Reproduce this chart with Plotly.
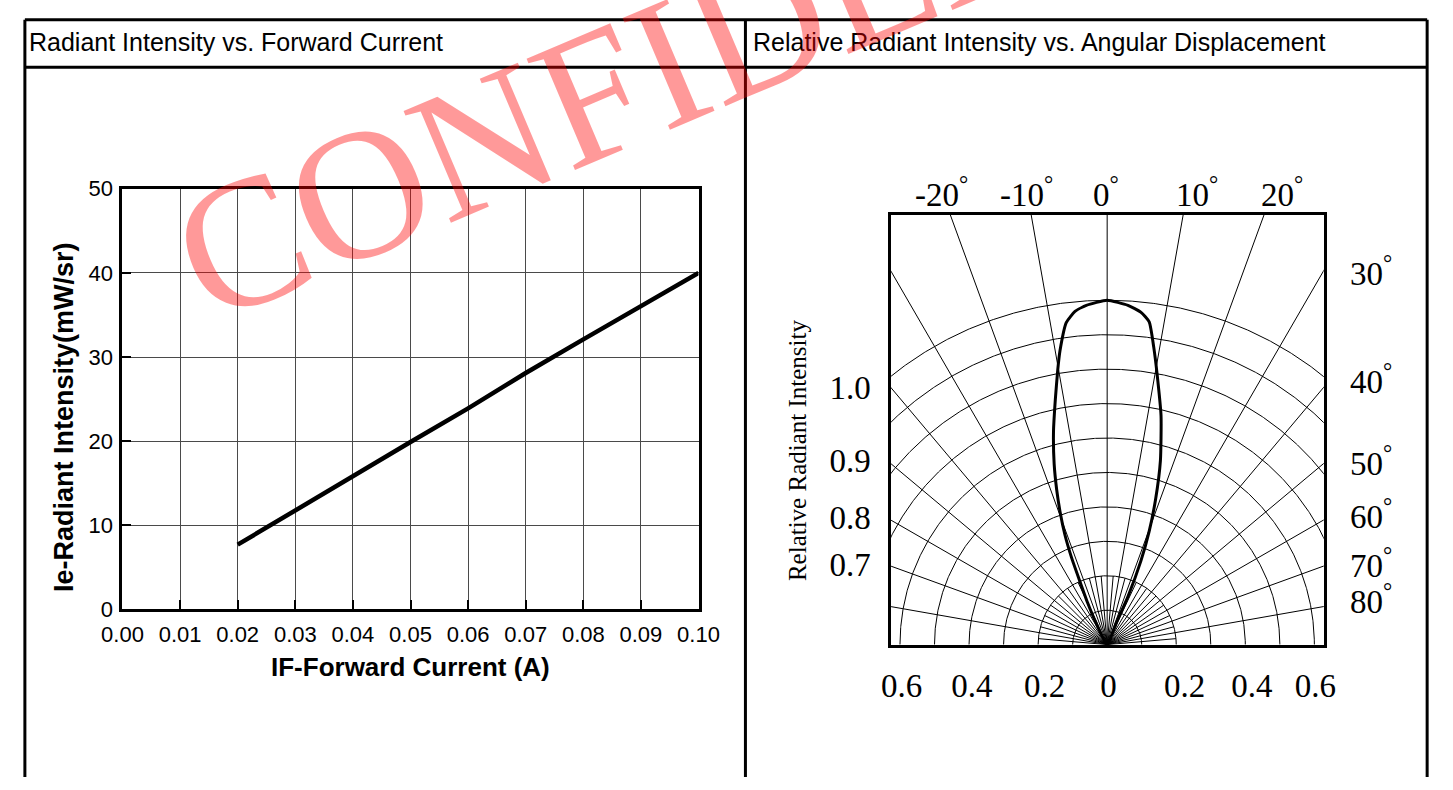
import numpy as np
import plotly.graph_objects as go

W, H = 1453, 790

# ---------------- data: left chart ----------------
current_A = [0.02, 0.03, 0.04, 0.05, 0.06, 0.07, 0.08, 0.09, 0.10]
radiant_mw_sr = [7.7, 11.8, 15.9, 19.9, 23.9, 28.1, 32.1, 36.1, 40.0]
x_tick_vals = [0.00, 0.01, 0.02, 0.03, 0.04, 0.05, 0.06, 0.07, 0.08, 0.09, 0.10]
y_tick_vals = [0, 10, 20, 30, 40, 50]

# ---------------- data: right chart (radiation pattern) ----------------
pattern_angle_deg = [-27.0, -25.0, -23.2, -22.2, -21.0, -19.5, -18.0, -16.3, -14.1, -11.9,
                     -10.2, -9.1, -7.2, -5.5, -3.5, 0.0, 3.5, 5.8, 7.4, 8.9, 10.4, 13.2,
                     16.1, 18.4, 20.3, 21.9, 23.3, 22.8]
pattern_rel_intensity = [0.073, 0.134, 0.204, 0.273, 0.341, 0.408, 0.473, 0.547, 0.638, 0.728,
                         0.809, 0.864, 0.943, 0.972, 0.987, 1.000, 0.987, 0.970, 0.945, 0.873,
                         0.800, 0.683, 0.556, 0.444, 0.350, 0.262, 0.153, 0.071]
arc_radii = [0.1, 0.2, 0.3, 0.4, 0.5, 0.6, 0.7, 0.8, 0.9, 1.0]
spoke_angles = [-80, -70, -60, -50, -40, -30, -20, -10, 0, 10, 20, 30, 40, 50, 60, 70, 80]
minor_spoke_angles = [-85, -75, -65, -55, -45, -35, -25, -15, -5, 5, 15, 25, 35, 45, 55, 65, 75, 85]
top_angle_labels = ["-20", "-10", "0", "10", "20"]
side_angle_labels = ["30", "40", "50", "60", "70", "80"]
bottom_labels = ["0.6", "0.4", "0.2", "0", "0.2", "0.4", "0.6"]
bottom_label_pos = [-0.595, -0.392, -0.181, 0.004, 0.224, 0.419, 0.603]
left_labels = ["1.0", "0.9", "0.8", "0.7"]
left_label_pos = [0.746, 0.535, 0.369, 0.234]

# ---------------- helpers (pixel -> paper) ----------------
def fx(px):
    return px / W

def fy(py):
    return 1 - py / H

# right chart geometry
UNIT = 355.6          # pixels for relative intensity 1.0
BOX_L, BOX_R, BOX_T, BOX_B = 896, 1341.5, 209.3, 653.3
ORIGIN_X = 1118.5
x2_range = [(BOX_L - ORIGIN_X) / UNIT, (BOX_R - ORIGIN_X) / UNIT]
y2_range = [0, (BOX_B - BOX_T) / UNIT]

fig = go.Figure()

# ---------------- left chart ----------------
fig.add_trace(go.Scatter(x=current_A, y=radiant_mw_sr, mode="lines",
                         line=dict(color="black", width=4.5), xaxis="x", yaxis="y",
                         showlegend=False, hoverinfo="skip"))

# ---------------- right chart grid ----------------
th = np.radians(np.linspace(-90, 90, 721))
ax_, ay_ = [], []
for r in arc_radii:
    ax_ += list(r * np.sin(th)) + [None]
    ay_ += list(r * np.cos(th)) + [None]
fig.add_trace(go.Scatter(x=ax_, y=ay_, mode="lines", line=dict(color="black", width=1),
                         xaxis="x2", yaxis="y2", showlegend=False, hoverinfo="skip"))
sx, sy = [], []
for a in spoke_angles:
    t = np.radians(a)
    sx += [0, 3 * np.sin(t), None]
    sy += [0, 3 * np.cos(t), None]
for a in minor_spoke_angles:
    t = np.radians(a)
    sx += [0, 0.2 * np.sin(t), None]
    sy += [0, 0.2 * np.cos(t), None]
fig.add_trace(go.Scatter(x=sx, y=sy, mode="lines", line=dict(color="black", width=1),
                         xaxis="x2", yaxis="y2", showlegend=False, hoverinfo="skip"))

# pattern curve
ang = np.radians(np.array(pattern_angle_deg))
val = np.array(pattern_rel_intensity)
px_ = [0.0] + list(val * np.sin(ang)) + [0.0]
py_ = [0.0] + list(val * np.cos(ang)) + [0.0]
fig.add_trace(go.Scatter(x=px_, y=py_, mode="lines",
                         line=dict(color="black", width=3, shape="spline", smoothing=0.5),
                         xaxis="x2", yaxis="y2", showlegend=False, hoverinfo="skip"))

SANS = "Liberation Sans, Arial, sans-serif"
SERIF = "Liberation Serif, Times New Roman, serif"

fig.update_layout(
    width=W, height=H, margin=dict(l=0, r=0, t=0, b=0),
    paper_bgcolor="white", plot_bgcolor="white",
    xaxis=dict(domain=[fx(104.5), fx(697.7)], range=[0, 0.1], tickvals=x_tick_vals,
               tickformat=".2f", showgrid=True, gridcolor="#4a4a4a", gridwidth=1,
               showline=True, linecolor="black", linewidth=3, mirror=True,
               ticks="inside", ticklen=9, tickwidth=2, tickcolor="black",
               tickfont=dict(family=SANS, size=22, color="black"), zeroline=False,
               ticklabelstandoff=3),
    yaxis=dict(domain=[fy(617), fy(182.5)], range=[0, 50], tickvals=y_tick_vals,
               showgrid=True, gridcolor="#4a4a4a", gridwidth=1,
               showline=True, linecolor="black", linewidth=3, mirror=True,
               ticks="inside", ticklen=9, tickwidth=2, tickcolor="black",
               tickfont=dict(family=SANS, size=22, color="black"), zeroline=False,
               ticklabelstandoff=2),
    xaxis2=dict(domain=[fx(BOX_L), fx(BOX_R)], range=x2_range, anchor="y2",
                showgrid=False, zeroline=False, showline=True, linecolor="black",
                linewidth=2.5, mirror=True, ticks="", tickvals=bottom_label_pos,
                ticktext=bottom_labels, tickfont=dict(family=SERIF, size=33, color="black"),
                ticklabelstandoff=10),
    yaxis2=dict(domain=[fy(BOX_B), fy(BOX_T)], range=y2_range, anchor="x2",
                showgrid=False, zeroline=False, showline=True, linecolor="black",
                linewidth=2.5, mirror=True, ticks="", tickvals=left_label_pos,
                ticktext=left_labels, tickfont=dict(family=SERIF, size=33, color="black"),
                ticklabelstandoff=11),
)

# ---------------- table frame ----------------
line = dict(color="black", width=3)
for (x0, y0, x1, y1) in [(4, 8, 1448, 8), (4, 57, 1448, 57), (4, 8, 4, 790),
                         (1448, 8, 1448, 790), (746, 8, 746, 790)]:
    fig.add_shape(type="line", xref="paper", yref="paper",
                  x0=fx(x0), y0=fy(y0), x1=fx(x1), y1=fy(y1), line=line)

ann = []
ann.append(dict(text="Radiant Intensity vs. Forward Current", x=fx(6), y=fy(31),
                xanchor="left", yanchor="middle", font=dict(family=SANS, size=25, color="black")))
ann.append(dict(text="Relative Radiant Intensity vs. Angular Displacement", x=fx(752), y=fy(31),
                xanchor="left", yanchor="middle", font=dict(family=SANS, size=25, color="black")))
ann.append(dict(text="<b>Ie-Radiant Intensity(mW/sr)</b>", x=fx(45), y=fy(418.5), textangle=-90,
                xanchor="center", yanchor="middle", font=dict(family=SANS, size=27, color="black")))
ann.append(dict(text="<b>IF-Forward Current (A)</b>", x=fx(401), y=fy(676),
                xanchor="center", yanchor="middle", font=dict(family=SANS, size=26, color="black")))
ann.append(dict(text="Relative Radiant Intensity", x=fx(799.5), y=fy(452), textangle=-90,
                xanchor="center", yanchor="middle", font=dict(family=SERIF, size=25, color="black")))

top_x = [919, 1006, 1102, 1187, 1275]
for lab, xl in zip(top_angle_labels, top_x):
    ann.append(dict(text=lab + "<sup>°</sup>", x=fx(xl), y=fy(186), xanchor="left",
                    yanchor="middle", font=dict(family=SERIF, size=33, color="black")))
side_y = [270.5, 382, 467, 521, 572, 609]
for lab, yc in zip(side_angle_labels, side_y):
    ann.append(dict(text=lab + "<sup>°</sup>", x=fx(1367), y=fy(yc - 3), xanchor="left",
                    yanchor="middle", font=dict(family=SERIF, size=33, color="black")))

# watermark + partial white cover (right panel image area)
ann.append(dict(text="CONFIDENTIAL", x=fx(812), y=fy(-10), xanchor="center", yanchor="middle",
                textangle=-23, font=dict(family=SERIF, size=185, color="rgba(255,0,0,0.40)")))
ann.append(dict(text=" ", x=fx(930), y=fy(136), xanchor="center", yanchor="middle",
                width=330, height=48, bgcolor="white", borderpad=0, borderwidth=0))

for a in ann:
    a.setdefault("showarrow", False)
    a["xref"] = "paper"
    a["yref"] = "paper"
fig.update_layout(annotations=ann)

fig.write_html("out.html", config={"displayModeBar": False},
               post_script="document.body.style.margin='0';document.body.style.overflow='hidden';")
